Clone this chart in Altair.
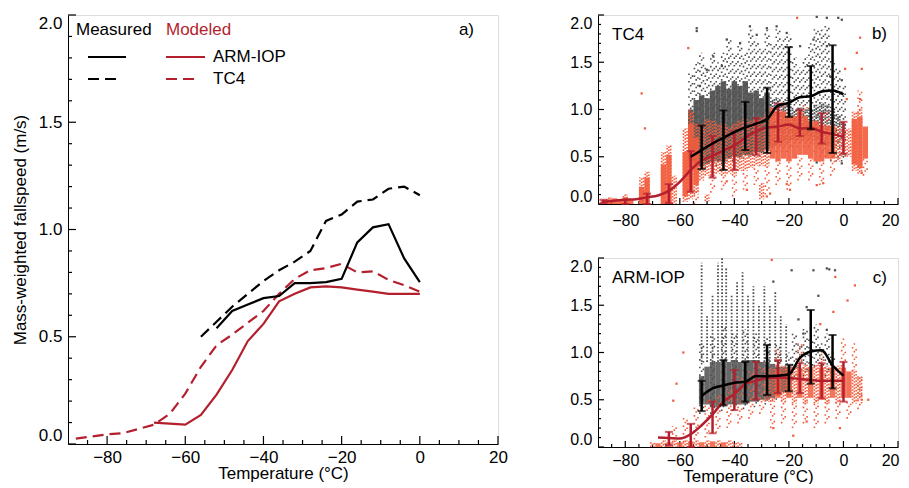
import altair as alt
import pandas as pd

FONT = "Liberation Sans"
RED = "#b41f2d"
ORANGE = "#f25c3c"
GRAY = "#4d4d4d"

# ---------------- panel a: binned mass-weighted fallspeeds ----------------
meas_arm_t = [-52, -48, -44, -40, -36, -32, -28, -24, -20, -16, -12, -8, -4, 0]
meas_arm_v = [0.54, 0.62, 0.65, 0.68, 0.69, 0.75, 0.75, 0.755, 0.77, 0.94, 1.01, 1.025, 0.865, 0.755]
meas_tc4_t = [-56, -52, -48, -44, -40, -36, -32, -28, -24, -20, -16, -12, -8, -4, 0]
meas_tc4_v = [0.50, 0.57, 0.64, 0.70, 0.76, 0.81, 0.85, 0.90, 1.04, 1.07, 1.13, 1.14, 1.19, 1.20, 1.16]
mod_arm_t = [-68, -64, -60, -56, -52, -48, -44, -40, -36, -32, -28, -24, -20, -16, -12, -8, -4, 0]
mod_arm_v = [0.10, 0.095, 0.09, 0.135, 0.23, 0.345, 0.48, 0.56, 0.665, 0.70, 0.73, 0.735, 0.73, 0.72, 0.71, 0.70, 0.70, 0.70]
mod_tc4_t = [-88, -84, -80, -76, -72, -68, -64, -60, -56, -52, -48, -44, -40, -36, -32, -28, -24, -20, -16, -12, -8, -4, 0]
mod_tc4_v = [0.025, 0.035, 0.045, 0.05, 0.07, 0.09, 0.14, 0.235, 0.36, 0.46, 0.51, 0.565, 0.62, 0.70, 0.77, 0.81, 0.82, 0.84, 0.80, 0.805, 0.765, 0.74, 0.71]

# ---------------- error bars (panels b, c) ----------------
b_red_t = [-88, -80, -72, -64, -56, -48, -40, -32, -24, -16, -8, 0]
b_red_lo = [0.01, 0.0, 0.0, 0.01, 0.13, 0.28, 0.36, 0.52, 0.66, 0.72, 0.64, 0.53]
b_red_hi = [0.045, 0.045, 0.11, 0.21, 0.56, 0.72, 0.77, 0.91, 1.06, 1.0, 0.96, 0.87]
b_blk_t = [-52, -44, -36, -28, -20, -12, -4]
b_blk_lo = [0.37, 0.36, 0.57, 0.54, 0.92, 0.79, 0.54]
b_blk_hi = [0.83, 0.99, 1.08, 1.23, 1.66, 1.46, 1.68]

c_red_t = [-64, -56, -48, -40, -32, -24, -16, -8, 0]
c_red_lo = [0.02, 0.0, 0.145, 0.39, 0.50, 0.57, 0.57, 0.515, 0.48]
c_red_hi = [0.16, 0.245, 0.48, 0.815, 0.90, 0.92, 0.886, 0.886, 0.90]
c_blk_t = [-52, -44, -36, -28, -20, -12, -4]
c_blk_lo = [0.38, 0.44, 0.48, 0.55, 0.59, 0.67, 0.62]
c_blk_hi = [0.70, 0.92, 0.90, 1.08, 0.87, 1.45, 1.185]

# ---------------- scatter clouds, read as 2-degree columns (T centre, lo, hi) ----------------
b_gray_core = [(-56, 0.45, 1.0), (-54, 0.42, 1.1), (-52, 0.40, 1.15), (-50, 0.42, 1.12),
               (-48, 0.45, 1.2), (-46, 0.45, 1.25), (-44, 0.45, 1.3), (-42, 0.48, 1.22),
               (-40, 0.5, 1.3), (-38, 0.5, 1.25), (-36, 0.52, 1.3), (-34, 0.52, 1.18),
               (-32, 0.55, 1.2), (-30, 0.55, 1.12), (-28, 0.58, 1.18)]
b_gray_mid = [(-26, 0.6, 1.1), (-24, 0.62, 1.12), (-22, 0.65, 1.05), (-20, 0.65, 1.1),
              (-18, 0.68, 1.0), (-16, 0.68, 1.02), (-14, 0.7, 1.0), (-12, 0.68, 1.0),
              (-10, 0.68, 1.05), (-8, 0.65, 1.08), (-6, 0.62, 1.05), (-4, 0.6, 1.0),
              (-2, 0.62, 0.95), (0, 0.7, 0.85)]
b_gray_halo = [(-56, 0.4, 1.4), (-54, 0.38, 1.5), (-52, 0.35, 1.6), (-50, 0.38, 1.45),
               (-48, 0.4, 1.6), (-46, 0.4, 1.5), (-44, 0.42, 1.6), (-42, 0.45, 1.75),
               (-40, 0.45, 1.6), (-38, 0.45, 1.72), (-36, 0.48, 1.6), (-34, 0.5, 1.85),
               (-32, 0.5, 1.75), (-30, 0.5, 1.65), (-28, 0.5, 1.85), (-26, 0.55, 1.7),
               (-24, 0.55, 1.85), (-22, 0.55, 1.75), (-20, 0.55, 1.8), (-18, 0.6, 1.55),
               (-16, 0.6, 1.45), (-14, 0.6, 1.55), (-12, 0.6, 1.7), (-10, 0.55, 1.85),
               (-8, 0.5, 1.85), (-6, 0.5, 1.9), (-4, 0.45, 1.55), (-2, 0.45, 1.45), (0, 0.45, 1.25)]
b_gray_pts = [(-53.8, 1.86), (-53.8, 1.83), (-34.3, 1.88), (-28.1, 1.86), (-9.8, 1.98), (-6.1, 1.97),
              (-1.9, 1.97), (-0.6, 1.95), (-20.8, 1.81), (-24.5, 1.88), (-31.8, 1.79), (-37.9, 1.70),
              (-42.8, 1.74), (-47.7, 1.56), (-50.1, 1.42), (-52.6, 1.25), (-44.6, 1.46), (-15.9, 1.67),
              (-11.0, 1.74), (-6.1, 1.67), (-4.9, 1.35), (-0.6, 1.31), (-0.6, 0.43), (-9.8, 0.44)]

b_orange_core = [(-88, 0.0, 0.04), (-86, 0.0, 0.05), (-84, 0.0, 0.06), (-82, 0.0, 0.04),
                 (-80, 0.0, 0.07), (-78, 0.0, 0.04), (-74, 0.0, 0.18), (-72, 0.0, 0.28),
                 (-66, 0.0, 0.42), (-64, 0.0, 0.52), (-58, 0.08, 0.55),
                 (-56, 0.12, 0.85), (-54, 0.2, 0.7),
                 (-26, 0.48, 1.02), (-24, 0.45, 0.98), (-22, 0.48, 0.98), (-20, 0.45, 0.93),
                 (-18, 0.48, 0.93), (-16, 0.52, 0.98), (-14, 0.52, 0.93), (-12, 0.48, 0.88),
                 (-10, 0.45, 0.88), (-8, 0.45, 0.83), (-6, 0.48, 0.83), (-4, 0.48, 0.83),
                 (4, 0.42, 0.9), (6, 0.38, 0.92), (8, 0.48, 0.82)]
b_orange_mid = [(-86, 0.0, 0.07), (-80, 0.0, 0.1), (-74, 0.0, 0.28), (-72, 0.0, 0.34),
                (-66, 0.0, 0.55), (-64, 0.0, 0.62), (-62, 0.0, 0.3), (-58, 0.02, 0.8),
                (-56, 0.05, 0.98), (-54, 0.1, 0.85),
                (-52, 0.25, 0.85), (-50, 0.3, 0.9), (-48, 0.3, 0.88), (-46, 0.32, 0.85),
                (-44, 0.3, 0.85), (-42, 0.32, 0.82), (-40, 0.3, 0.85), (-38, 0.35, 0.88),
                (-36, 0.35, 0.9), (-34, 0.38, 0.88), (-32, 0.4, 0.9), (-30, 0.4, 0.92),
                (-28, 0.4, 0.95), (-2, 0.45, 0.82), (0, 0.5, 0.8), (2, 0.5, 0.8),
                (4, 0.35, 0.98), (6, 0.32, 1.0), (-50, 0.03, 0.1), (-30, 0.05, 0.22)]
b_orange_halo = [(-56, 0.9, 1.0), (-54, 0.0, 0.15),
                 (-48, 0.12, 0.3), (-44, 0.15, 0.3), (-40, 0.08, 0.3), (-36, 0.15, 0.35),
                 (-32, 0.2, 0.4), (-28, 0.1, 0.4), (-24, 0.2, 0.45), (-20, 0.15, 0.45),
                 (-16, 0.25, 0.5), (-12, 0.25, 0.48), (-8, 0.2, 0.45), (-4, 0.3, 0.48),
                 (-22, 0.98, 1.1), (-14, 0.95, 1.05), (-6, 0.83, 0.98), (6, 0.95, 1.2),
                 (8, 0.3, 0.5)]
b_orange_pts = [(-74.0, 1.17), (-72.8, 0.80), (-56.9, 1.65), (6.1, 1.76), (4.9, 1.6), (6.7, 1.43),
                (6.1, 1.11), (6.7, 0.33), (-7.4, 0.22), (-9.8, 0.2), (-20.8, 0.21), (-19.6, 0.15),
                (-26.9, 0.11), (-28.1, 0.08), (-35.4, 0.15), (-17.0, 1.97), (0.6, 1.43), (1.2, 1.11),
                (-42.8, 0.24)]

c_gray_core = [(-52, 0.45, 0.75), (-50, 0.45, 0.85), (-48, 0.42, 0.9), (-46, 0.42, 0.9),
               (-44, 0.45, 0.92), (-42, 0.45, 0.9), (-40, 0.45, 0.92), (-38, 0.45, 0.9),
               (-36, 0.45, 0.92), (-34, 0.48, 0.92), (-32, 0.48, 0.92), (-30, 0.5, 0.9),
               (-28, 0.5, 0.9), (-26, 0.52, 0.88), (-24, 0.55, 0.85), (-22, 0.58, 0.85),
               (-20, 0.6, 0.85)]
c_streak_t = [-52, -50, -48, -46, -44.5, -43, -41, -39, -37, -35, -33, -31, -29, -27, -25, -23, -21]
c_streak_top = [1.95, 1.4, 1.6, 1.95, 2.0, 1.9, 1.6, 1.75, 1.85, 1.6, 1.7, 1.5, 1.7, 1.5, 1.65, 1.4, 1.3]
c_gray_halo = [(-52, 0.35, 1.1), (-48, 0.35, 1.2), (-44, 0.38, 1.3), (-40, 0.38, 1.2),
               (-36, 0.4, 1.25), (-32, 0.42, 1.2), (-28, 0.45, 1.15), (-24, 0.5, 1.1),
               (-20, 0.55, 1.0), (-18, 0.7, 1.2), (-16, 0.75, 1.1), (-14, 0.75, 1.25),
               (-12, 0.8, 1.15), (-10, 0.85, 1.3), (-8, 0.8, 1.1), (-6, 0.75, 1.2), (-4, 0.7, 1.0)]
c_gray_pts = [(-6.1, 1.89), (-3.1, 1.87), (-11.0, 1.87), (-19.0, 1.87), (-25.7, 1.75), (-13.5, 1.48),
              (-14.7, 1.2), (-6.1, 1.24), (-9.2, 1.6), (-5.2, 1.88), (-16.5, 1.35)]

c_orange_core = [(-68, 0.0, 0.04), (-64, 0.0, 0.05), (-60, 0.0, 0.05), (-56, 0.0, 0.06),
                 (-52, 0.0, 0.05), (-48, 0.0, 0.06), (-44, 0.0, 0.05),
                 (-24, 0.52, 0.82), (-20, 0.52, 0.84), (-16, 0.52, 0.83), (-12, 0.52, 0.85),
                 (-8, 0.5, 0.84), (-4, 0.52, 0.84), (0, 0.52, 0.84), (2, 0.52, 0.8)]
c_orange_mid = [(-70, 0.0, 0.05), (-66, 0.0, 0.07), (-62, 0.0, 0.07), (-58, 0.0, 0.07),
                (-54, 0.0, 0.07), (-50, 0.0, 0.07), (-46, 0.0, 0.07), (-42, 0.0, 0.07),
                (-40, 0.0, 0.05), (-38, 0.0, 0.05),
                (-28, 0.48, 0.82), (-26, 0.48, 0.84), (-22, 0.48, 0.86), (-18, 0.46, 0.86),
                (-14, 0.46, 0.87), (-10, 0.46, 0.87), (-6, 0.46, 0.86), (-2, 0.46, 0.86),
                (4, 0.46, 0.82), (6, 0.5, 0.75)]
c_orange_halo = [(-62, 0.05, 0.22), (-58, 0.05, 0.33), (-54, 0.08, 0.42), (-50, 0.1, 0.5),
                 (-46, 0.15, 0.55), (-42, 0.2, 0.65), (-38, 0.25, 0.75), (-34, 0.3, 0.8),
                 (-30, 0.35, 0.85), (-26, 0.2, 0.5), (-22, 0.25, 0.5), (-18, 0.2, 0.48),
                 (-14, 0.25, 0.48), (-10, 0.2, 0.5), (-6, 0.25, 0.48), (-2, 0.3, 0.5),
                 (2, 0.3, 0.5), (6, 0.4, 0.75), (-24, 0.85, 1.05), (-16, 0.85, 1.1),
                 (-8, 0.85, 1.05), (0, 0.85, 1.15), (4, 0.8, 1.1)]
c_orange_pts = [(-26.3, 1.98), (-3.0, 1.8), (4.2, 1.71), (-3.7, 1.43), (-58.7, 1.0), (-62.4, 0.49),
                (-61.2, 0.67), (6.7, 0.5), (9.1, 0.5), (-18.4, 0.12), (-25.7, 0.2), (-1.3, 0.2),
                (-13.5, 0.27), (1.5, 1.55), (-8.5, 1.3)]

# ---------------- axis ticks ----------------
X_MAJOR = [-80, -60, -40, -20, 0, 20]
X_MINOR = [-85, -75, -70, -65, -55, -50, -45, -35, -30, -25, -15, -10, -5, 5, 10, 15]
Y_MAJOR = [0.0, 0.5, 1.0, 1.5, 2.0]
Y_MINOR = [0.1, 0.2, 0.3, 0.4, 0.6, 0.7, 0.8, 0.9, 1.1, 1.2, 1.3, 1.4, 1.6, 1.7, 1.8, 1.9]

X_DOM = [-90, 20]
Y_DOM = [0, 2]
XS = alt.Scale(domain=X_DOM, nice=False, zero=False)
YS = alt.Scale(domain=Y_DOM, nice=False, zero=False)


def axes(lab_size, xtitle, ytitle, x_pad, flush_x, t_pad):
    common = dict(ticks=False, tickSize=0, grid=False, domainColor="black", domainWidth=1,
                  labelFont=FONT, labelFontSize=lab_size, labelColor="black",
                  titleFont=FONT, titleFontSize=17, titleFontWeight="normal", titleColor="black")
    if flush_x:
        xa = alt.Axis(values=X_MAJOR, labelFlush=True, labelFlushOffset=1, labelPadding=x_pad,
                      titlePadding=t_pad, title=xtitle, **common)
    else:
        xa = alt.Axis(values=X_MAJOR, labelFlush=False, labelPadding=x_pad, titlePadding=t_pad,
                      title=xtitle, **common)
    ya = alt.Axis(values=Y_MAJOR, format=".1f", labelFlush=True, labelPadding=6, titlePadding=9,
                  title=ytitle, **common)
    return xa, ya


def tick_layers(w, h, major_len, minor_len, xa, ya):
    # inward ticks, drawn as short rules whose length is converted from pixels to data units
    out = []
    yspan = Y_DOM[1] - Y_DOM[0]
    xspan = X_DOM[1] - X_DOM[0]
    for vals, ln in ((X_MAJOR, major_len), (X_MINOR, minor_len)):
        df = pd.DataFrame({"T": vals})
        df["y0"] = Y_DOM[0]
        df["y1"] = Y_DOM[0] + ln * yspan / h
        out.append(alt.Chart(df).mark_rule(color="black", strokeWidth=1.2).encode(
            x=alt.X("T:Q", scale=XS, axis=xa), y=alt.Y("y0:Q", scale=YS, axis=ya), y2="y1:Q"))
    for vals, ln in ((Y_MAJOR, major_len), (Y_MINOR, minor_len)):
        df = pd.DataFrame({"V": vals})
        df["x0"] = X_DOM[0]
        df["x1"] = X_DOM[0] + ln * xspan / w
        out.append(alt.Chart(df).mark_rule(color="black", strokeWidth=1.2).encode(
            y=alt.Y("V:Q", scale=YS, axis=ya), x=alt.X("x0:Q", scale=XS, axis=xa), x2="x1:Q"))
    return out


def line(t, v, color, xa, ya, dash=None, width=2.2, interp="linear"):
    kw = dict(color=color, strokeWidth=width, interpolate=interp)
    if dash:
        kw["strokeDash"] = dash
    return alt.Chart(pd.DataFrame({"T": t, "V": v})).mark_line(**kw).encode(
        x=alt.X("T:Q", scale=XS, axis=xa), y=alt.Y("V:Q", scale=YS, axis=ya))


def solid(rows, color, opacity, xa, ya):
    df = pd.DataFrame(rows, columns=["T", "lo", "hi"])
    df["t0"] = df["T"] - 1.0
    df["t1"] = df["T"] + 1.0
    return [alt.Chart(df).mark_rect(color=color, opacity=opacity, strokeWidth=0).encode(
        x=alt.X("t0:Q", scale=XS, axis=xa), x2="t1:Q",
        y=alt.Y("lo:Q", scale=YS, axis=ya), y2="hi:Q")]


def speckle(rows, color, dash, xa, ya, width=1.6):
    # each 2-degree column drawn as three dotted strokes, staggered, to look like scattered dots
    df = pd.DataFrame(rows, columns=["T", "lo", "hi"])
    out = []
    period = dash[0] + dash[1]
    for dx, off in ((-0.65, 0.0), (0.0, period / 2.0), (0.65, period / 4.0)):
        d = df.copy()
        d["Tk"] = d["T"] + dx
        out.append(alt.Chart(d).mark_rule(color=color, strokeWidth=width, strokeDash=dash,
                                          strokeDashOffset=off).encode(
            x=alt.X("Tk:Q", scale=XS, axis=xa), y=alt.Y("lo:Q", scale=YS, axis=ya), y2="hi:Q"))
    return out


def points(rows, color, xa, ya):
    df = pd.DataFrame(rows, columns=["T", "V"])
    return alt.Chart(df).mark_square(color=color, size=5, opacity=1).encode(
        x=alt.X("T:Q", scale=XS, axis=xa), y=alt.Y("V:Q", scale=YS, axis=ya))


def errbars(t, lo, hi, color, xa, ya):
    df = pd.DataFrame({"T": t, "lo": lo, "hi": hi})
    base = alt.Chart(df)
    r = base.mark_rule(color=color, strokeWidth=2.5).encode(
        x=alt.X("T:Q", scale=XS, axis=xa), y=alt.Y("lo:Q", scale=YS, axis=ya), y2="hi:Q")
    c1 = base.mark_tick(color=color, orient="horizontal", size=8, thickness=2).encode(
        x=alt.X("T:Q", scale=XS, axis=xa), y=alt.Y("lo:Q", scale=YS, axis=ya))
    c2 = base.mark_tick(color=color, orient="horizontal", size=8, thickness=2).encode(
        x=alt.X("T:Q", scale=XS, axis=xa), y=alt.Y("hi:Q", scale=YS, axis=ya))
    return [r, c1, c2]


ONE = pd.DataFrame({"k": [0]})


def label(txt, x, y, color="black", align="left", size=17):
    return alt.Chart(ONE).mark_text(text=txt, align=align, baseline="middle", font=FONT,
                                    fontSize=size, color=color).encode(x=alt.value(x), y=alt.value(y))


def hrule(x1, x2, y, color, dash=None):
    kw = dict(color=color, strokeWidth=2.2)
    if dash:
        kw["strokeDash"] = dash
    return alt.Chart(ONE).mark_rule(**kw).encode(x=alt.value(x1), x2=alt.value(x2), y=alt.value(y))


DASH = [11, 6]
MID = [1.6, 1.6]
SPARSE = [1.6, 6.0]

# ---------------- panel a ----------------
AW, AH = 430, 429
xa_a, ya_a = axes(17, "Temperature (°C)", "Mass-weighted fallspeed (m/s)", 5, False, 0)
layers_a = tick_layers(AW, AH, 8, 4, xa_a, ya_a) + [
    line(mod_tc4_t, mod_tc4_v, RED, xa_a, ya_a, dash=DASH),
    line(mod_arm_t, mod_arm_v, RED, xa_a, ya_a),
    line(meas_tc4_t, meas_tc4_v, "black", xa_a, ya_a, dash=DASH),
    line(meas_arm_t, meas_arm_v, "black", xa_a, ya_a),
    label("Measured", 8, 15),
    label("Modeled", 98, 15, color=RED),
    hrule(20, 58, 42, "black"),
    hrule(98, 137, 42, RED),
    label("ARM-IOP", 145, 42),
    hrule(20, 50, 64, "black", DASH),
    hrule(98, 129, 64, RED, DASH),
    label("TC4", 145, 64),
    label("a)", 406, 15, align="right"),
]
panel_a = alt.layer(*layers_a).properties(width=AW, height=AH)

# ---------------- panel b ----------------
BW, BH = 300, 189
xa_b, ya_b = axes(16, None, None, 8, True, 0)
layers_b = (tick_layers(BW, BH, 6, 3, xa_b, ya_b)
            + speckle(b_gray_halo, GRAY, SPARSE, xa_b, ya_b)
            + speckle(b_gray_mid, GRAY, MID, xa_b, ya_b)
            + solid(b_gray_core, GRAY, 0.92, xa_b, ya_b)
            + [points(b_gray_pts, GRAY, xa_b, ya_b)]
            + speckle(b_orange_halo, ORANGE, SPARSE, xa_b, ya_b)
            + speckle(b_orange_mid, ORANGE, MID, xa_b, ya_b)
            + solid(b_orange_core, ORANGE, 0.9, xa_b, ya_b)
            + [points(b_orange_pts, ORANGE, xa_b, ya_b),
               line(mod_tc4_t, mod_tc4_v, RED, xa_b, ya_b, width=2.5, interp="monotone")]
            + errbars(b_red_t, b_red_lo, b_red_hi, RED, xa_b, ya_b)
            + [line(meas_tc4_t, meas_tc4_v, "black", xa_b, ya_b, width=2.5, interp="monotone")]
            + errbars(b_blk_t, b_blk_lo, b_blk_hi, "black", xa_b, ya_b)
            + [label("TC4", 14, 20), label("b)", 289, 19, align="right")])
panel_b = alt.layer(*layers_b).properties(width=BW, height=BH)

# ---------------- panel c ----------------
xa_c, ya_c = axes(16, "Temperature (°C)", None, 5, True, 0)
streaks = pd.DataFrame({"T": c_streak_t, "top": c_streak_top, "bot": [0.9] * len(c_streak_t)})
layers_c = (tick_layers(BW, BH, 6, 3, xa_c, ya_c)
            + speckle(c_gray_halo, GRAY, SPARSE, xa_c, ya_c)
            + [alt.Chart(streaks).mark_rule(color=GRAY, strokeWidth=1.8, strokeDash=[1.6, 1.8]).encode(
                x=alt.X("T:Q", scale=XS, axis=xa_c), y=alt.Y("bot:Q", scale=YS, axis=ya_c), y2="top:Q")]
            + solid(c_gray_core, GRAY, 0.85, xa_c, ya_c)
            + [points(c_gray_pts, GRAY, xa_c, ya_c)]
            + speckle(c_orange_halo, ORANGE, SPARSE, xa_c, ya_c)
            + speckle(c_orange_mid, ORANGE, MID, xa_c, ya_c)
            + solid(c_orange_core, ORANGE, 0.85, xa_c, ya_c)
            + [points(c_orange_pts, ORANGE, xa_c, ya_c),
               line(mod_arm_t, mod_arm_v, RED, xa_c, ya_c, width=2.5, interp="monotone")]
            + errbars(c_red_t, c_red_lo, c_red_hi, RED, xa_c, ya_c)
            + [line(meas_arm_t, meas_arm_v, "black", xa_c, ya_c, width=2.5, interp="monotone")]
            + errbars(c_blk_t, c_blk_lo, c_blk_hi, "black", xa_c, ya_c)
            + [label("ARM-IOP", 14, 20), label("c)", 289, 20, align="right")])
panel_c = alt.layer(*layers_c).properties(width=BW, height=BH)

chart = alt.hconcat(
    panel_a,
    alt.vconcat(panel_b, panel_c, spacing=27),
    spacing=61,
).properties(
    padding={"top": 5, "left": 2, "right": 0, "bottom": -1}
).configure_view(stroke=None).configure(background="white")

chart.save("out.html", embed_options={"renderer": "svg", "actions": False})
